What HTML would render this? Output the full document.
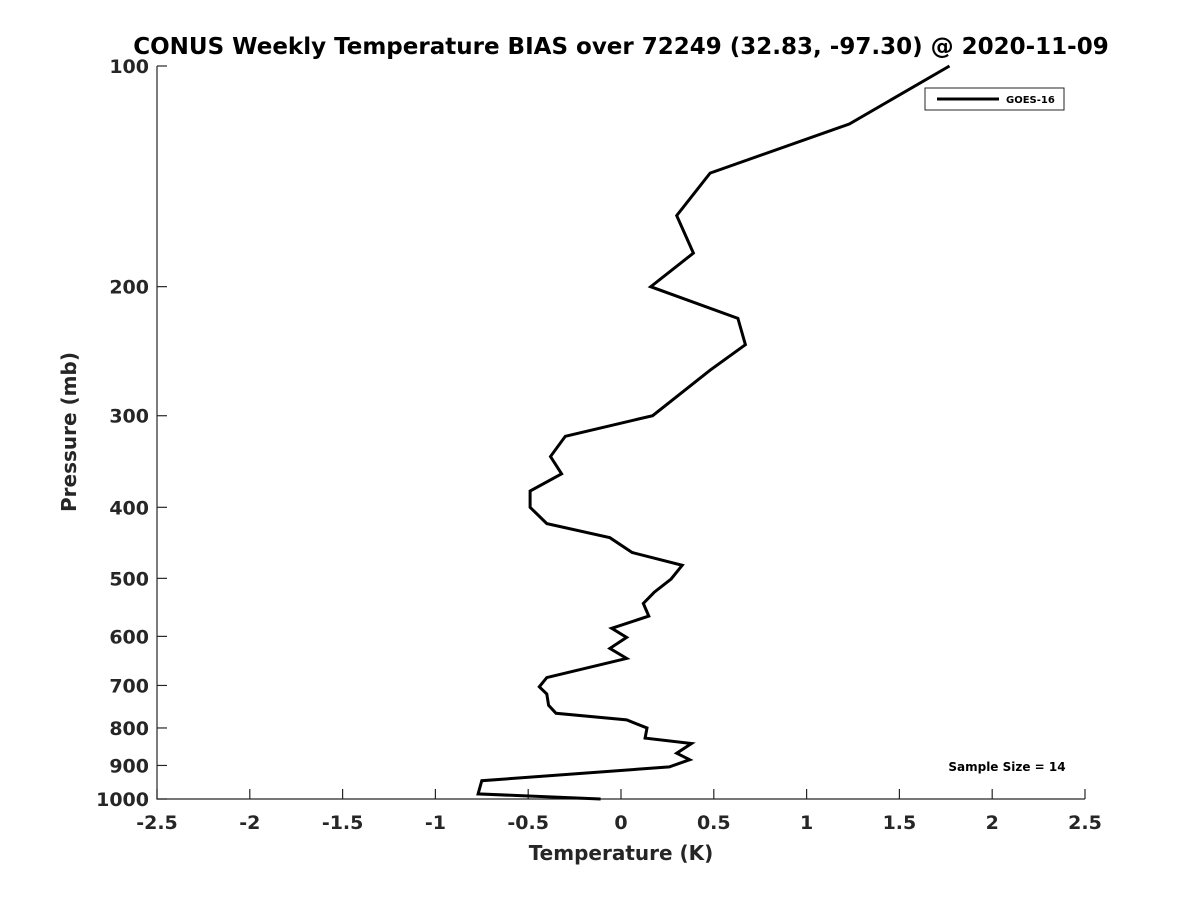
<!DOCTYPE html>
<html><head><meta charset="utf-8"><style>
body{margin:0;background:#fff;}
svg{font-family:"DejaVu Sans","Liberation Sans",sans-serif;font-weight:bold;}
</style></head><body>
<svg id="c" width="1200" height="900" viewBox="0 0 1200 900">
<text x="621" y="54" text-anchor="middle" font-size="23" fill="#000">CONUS Weekly Temperature BIAS over 72249 (32.83, -97.30) @ 2020-11-09</text>
<g id="axes"></g>
<text x="621" y="860" text-anchor="middle" font-size="20" fill="#262626">Temperature (K)</text>
<text transform="translate(76,432) rotate(-90)" text-anchor="middle" font-size="20" fill="#262626">Pressure (mb)</text>
<g>
<rect x="925" y="88" width="139" height="22" fill="#fff" stroke="#262626" stroke-width="1"/>
<line x1="937" y1="99" x2="999" y2="99" stroke="#000" stroke-width="3"/>
<text x="1006" y="103" font-size="10" fill="#000">GOES-16</text>
</g>
<text x="1007" y="771" text-anchor="middle" font-size="12" fill="#000">Sample Size = 14</text>
</svg>
<script>
const xTicks=[-2.5,-2,-1.5,-1,-0.5,0,0.5,1,1.5,2,2.5];
const yTicks=[100,200,300,400,500,600,700,800,900,1000];
const pressures=[100,120,140,160,180,200,221,240,260,300,320,341,360,380,400,421,440,461,480,501,522,541,563,585,602,623,643,683,703,719,745,764,780,800,826,840,866,884,904,944,984,1000];
const bias=[1.77,1.23,0.48,0.30,0.39,0.16,0.63,0.67,0.48,0.17,-0.30,-0.38,-0.32,-0.49,-0.49,-0.40,-0.06,0.06,0.33,0.27,0.18,0.12,0.15,-0.05,0.03,-0.06,0.03,-0.40,-0.44,-0.40,-0.39,-0.35,0.03,0.14,0.13,0.38,0.30,0.37,0.26,-0.75,-0.77,-0.11];
const NS='http://www.w3.org/2000/svg';
const x0=157,x1=1085,yTop=66,yBot=799;
const X=v=>x0+(v+2.5)/5*(x1-x0);
const Y=p=>yTop+Math.log10(p/100)*(yBot-yTop);
const g=document.getElementById('axes');
function mk(t,a){const e=document.createElementNS(NS,t);for(const k in a)e.setAttribute(k,a[k]);return e;}
const ax=mk('path',{d:`M${x0},${yTop}V${yBot}H${x1}`,fill:'none',stroke:'#262626','stroke-width':1.2});


g.appendChild(ax);
xTicks.forEach(v=>{
  const l=mk('line',{x1:X(v),x2:X(v),y1:yBot,y2:yBot-10,stroke:'#262626','stroke-width':1.2});
  
  
  g.appendChild(l);
  const t=mk('text',{x:X(v),y:yBot+30,'text-anchor':'middle','font-size':19,fill:'#262626'});
  
  
  t.textContent=String(v);g.appendChild(t);
});
yTicks.forEach(p=>{
  const l=mk('line',{x1:x0,x2:x0+10,y1:Y(p),y2:Y(p),stroke:'#262626','stroke-width':1.2});
  
  
  g.appendChild(l);
  const t=mk('text',{x:x0-8,y:Y(p)+7,'text-anchor':'end','font-size':19,fill:'#262626'});
  
  
  t.textContent=String(p);g.appendChild(t);
});
const pts=pressures.map((p,i)=>X(bias[i]).toFixed(1)+','+Y(p).toFixed(1)).join(' ');
const pl=mk('polyline',{points:pts,fill:'none',stroke:'#000','stroke-width':3,'stroke-linejoin':'miter'});


g.appendChild(pl);
</script>
</body></html>
